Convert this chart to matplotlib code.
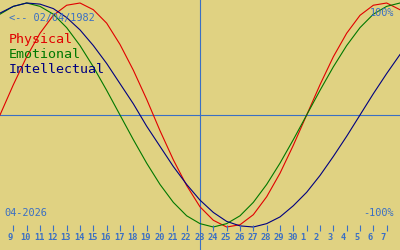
import matplotlib
matplotlib.use("Agg")
import matplotlib.pyplot as plt
import matplotlib.transforms as mtransforms

# day labels along the bottom (April 9 .. May 7, 2026)
day_labels = [9, 10, 11, 12, 13, 14, 15, 16, 17, 18, 19, 20, 21, 22, 23, 24,
              25, 26, 27, 28, 29, 30, 1, 2, 3, 4, 5, 6, 7]
today_index = 14  # April 23

# cycle values, one per day from April 8 to May 8 (index -1 .. 29)
physical = [0.0, 0.27, 0.52, 0.73, 0.89, 0.98, 1.0, 0.94, 0.82, 0.63, 0.40,
            0.14, -0.14, -0.40, -0.63, -0.82, -0.94, -1.0, -0.98, -0.89, -0.73,
            -0.52, -0.27, 0.0, 0.27, 0.52, 0.73, 0.89, 0.98, 1.0, 0.94]
emotional = [0.90, 0.97, 1.0, 0.97, 0.90, 0.78, 0.62, 0.43, 0.22, 0.0, -0.22,
             -0.43, -0.62, -0.78, -0.90, -0.97, -1.0, -0.97, -0.90, -0.78,
             -0.62, -0.43, -0.22, 0.0, 0.22, 0.43, 0.62, 0.78, 0.90, 0.97, 1.0]
intellectual = [0.91, 0.97, 1.0, 0.99, 0.95, 0.87, 0.76, 0.62, 0.46, 0.28,
                0.10, -0.10, -0.28, -0.46, -0.62, -0.76, -0.87, -0.95, -0.99,
                -1.0, -0.97, -0.91, -0.81, -0.69, -0.54, -0.37, -0.19, 0.0,
                0.19, 0.37, 0.54]
day_index = list(range(-1, 30))

bg = '#e0d282'
blue = '#3a6fc4'
W, H = 400, 250

fig = plt.figure(figsize=(4, 2.5), dpi=100, facecolor=bg)
ax = fig.add_axes([0, 0, 1, 1])
ax.set_facecolor(bg)
ax.set_axis_off()
ax.set_xlim(-1, 29)
ax.set_ylim(-135 / 112, 115 / 112)

lw = 0.8
ax.axhline(0, color=blue, lw=lw)
ax.axvline(today_index, color=blue, lw=lw)

ax.plot(day_index, physical, color='#e00000', lw=lw)
ax.plot(day_index, emotional, color='#007800', lw=lw)
ax.plot(day_index, intellectual, color='#000080', lw=lw)

# day ticks and labels
trans = mtransforms.blended_transform_factory(ax.transData, ax.transAxes)
ticks = list(range(len(day_labels)))
ax.vlines(ticks, 1 - 231 / H, 1 - 225 / H, color=blue, lw=lw, transform=trans)
offset = mtransforms.ScaledTranslation(-6 / 100, 0, fig.dpi_scale_trans)
for i, lab in zip(ticks, day_labels):
    ax.text(i, 1 - 240.5 / H, str(lab), transform=trans + offset,
            ha='left', va='baseline', color=blue, fontsize=6.2,
            family='DejaVu Sans Mono', fontweight='bold')


def put(x, y, s, color, size, ha='left'):
    fig.text(x / W, 1 - y / H, s, color=color, fontsize=size, ha=ha,
             va='baseline', family='DejaVu Sans Mono')


put(9, 21, '<-- 02/04/1982', blue, 7.4)
put(394, 16, '100%', blue, 7.4, ha='right')
put(4, 216, '04-2026', blue, 7.4)
put(394, 216, '-100%', blue, 7.4, ha='right')
put(9, 43.3, 'Physical', '#e00000', 9.6)
put(9, 58, 'Emotional', '#007800', 9.6)
put(9, 72.7, 'Intellectual', '#000080', 9.6)

fig.savefig('out.png', dpi=100, facecolor=bg)
